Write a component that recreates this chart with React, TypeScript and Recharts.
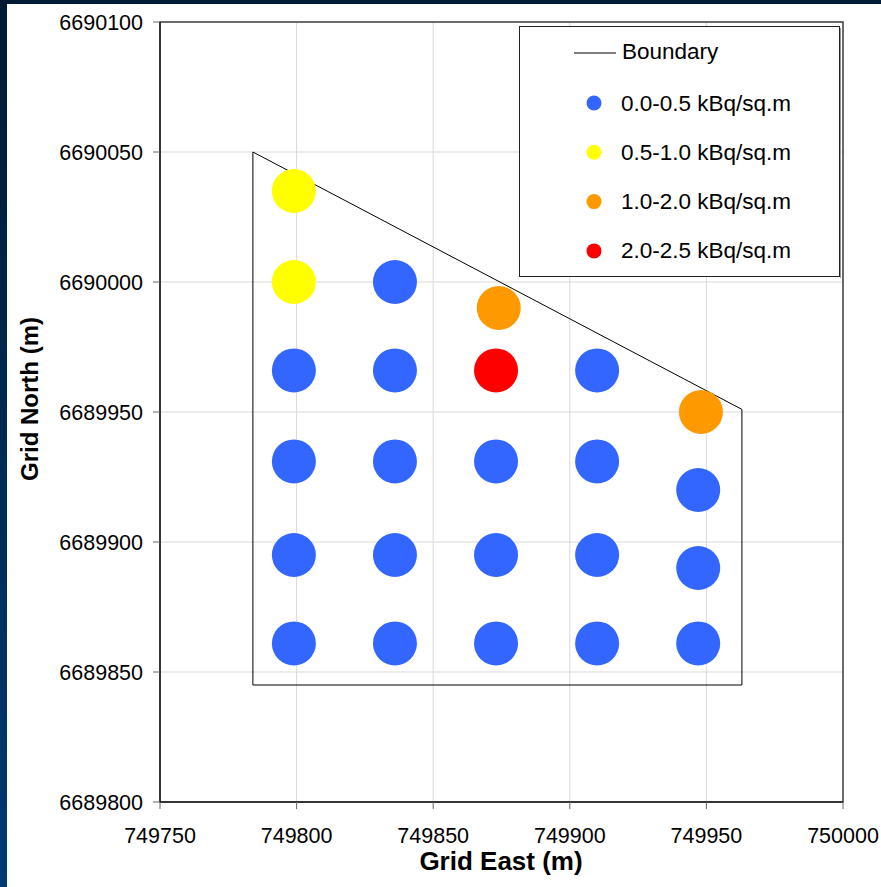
import React from 'react'
import { ScatterChart, Scatter, XAxis, YAxis, CartesianGrid, Legend, ReferenceArea, Label } from 'recharts'

const FONT = '"Liberation Sans", Arial, sans-serif'

const EAST_TICKS = [749750, 749800, 749850, 749900, 749950, 750000]
const NORTH_TICKS = [6689800, 6689850, 6689900, 6689950, 6690000, 6690050, 6690100]

// survey area outline (closed)
const boundary = [
  { x: 749784, y: 6690050 },
  { x: 749963, y: 6689951 },
  { x: 749963, y: 6689845 },
  { x: 749784, y: 6689845 },
  { x: 749784, y: 6690050 },
]

// sample points grouped by activity band
const band00to05 = [
  { x: 749836, y: 6690000 },
  { x: 749799, y: 6689966 },
  { x: 749836, y: 6689966 },
  { x: 749910, y: 6689966 },
  { x: 749799, y: 6689931 },
  { x: 749836, y: 6689931 },
  { x: 749873, y: 6689931 },
  { x: 749910, y: 6689931 },
  { x: 749947, y: 6689920 },
  { x: 749799, y: 6689895 },
  { x: 749836, y: 6689895 },
  { x: 749873, y: 6689895 },
  { x: 749910, y: 6689895 },
  { x: 749947, y: 6689890 },
  { x: 749799, y: 6689861 },
  { x: 749836, y: 6689861 },
  { x: 749873, y: 6689861 },
  { x: 749910, y: 6689861 },
  { x: 749947, y: 6689861 },
]

const band05to10 = [
  { x: 749799, y: 6690035 },
  { x: 749799, y: 6690000 },
]

const band10to20 = [
  { x: 749874, y: 6689990 },
  { x: 749948, y: 6689950 },
]

const band20to25 = [
  { x: 749873, y: 6689966 },
]

const BANDS = [
  { name: '0.0-0.5 kBq/sq.m', color: '#3366ff', data: band00to05 },
  { name: '0.5-1.0 kBq/sq.m', color: '#ffff00', data: band05to10 },
  { name: '1.0-2.0 kBq/sq.m', color: '#ff9900', data: band10to20 },
  { name: '2.0-2.5 kBq/sq.m', color: '#ff0000', data: band20to25 },
]

const makeDot = (color: string) => (props: any) => (
  <circle cx={props.cx} cy={props.cy} r={22} fill={color} />
)

const noShape = () => <g />

function LegendBox() {
  return (
    <svg width={322} height={252} style={{ display: 'block' }}>
      <rect x={0.5} y={0.5} width={320} height={250} fill="#fff" stroke="#222" />
      <line x1={321.5} y1={2} x2={321.5} y2={252} stroke="#999" />
      <line x1={55} y1={27} x2={97} y2={27} stroke="#000" strokeWidth={1} />
      <text x={103} y={25} dominantBaseline="central" fontSize={22.5} fontFamily={FONT} fill="#000">
        Boundary
      </text>
      {BANDS.map((b, i) => {
        const cy = 77 + i * 49.3
        return (
          <g key={b.name}>
            <circle cx={75} cy={cy} r={7.5} fill={b.color} />
            <text x={102} y={cy} dominantBaseline="central" fontSize={22.5} fontFamily={FONT} fill="#000">
              {b.name}
            </text>
          </g>
        )
      })}
    </svg>
  )
}

export default function App() {
  return (
    <div
      style={{
        position: 'absolute',
        left: 0,
        top: 0,
        width: 881,
        height: 887,
        background: 'linear-gradient(#001a33, #003a70)',
        overflow: 'hidden',
      }}
    >
      <div style={{ position: 'absolute', left: 7, top: 4, width: 874, height: 883, background: '#fff' }} />
      <div style={{ position: 'absolute', left: 0, top: 0 }}>
        <ScatterChart width={881} height={887} margin={{ top: 22, right: 38, bottom: 0, left: 0 }}>
          <CartesianGrid stroke="#d9d9d9" />
          <XAxis
            type="number"
            dataKey="x"
            domain={[749750, 750000]}
            ticks={EAST_TICKS}
            allowDataOverflow
            height={85}
            tickSize={7}
            tickMargin={19}
            axisLine={{ stroke: '#000' }}
            tickLine={{ stroke: '#666' }}
            tick={{ fill: '#000', fontSize: 21.5, fontFamily: FONT }}
          >
            <Label
              content={() => (
                <text x={501} y={870} textAnchor="middle" fontSize={26} fontWeight="bold" fontFamily={FONT} fill="#000">
                  Grid East (m)
                </text>
              )}
            />
          </XAxis>
          <YAxis
            type="number"
            dataKey="y"
            domain={[6689800, 6690100]}
            ticks={NORTH_TICKS}
            allowDataOverflow
            width={160}
            tickSize={7}
            tickMargin={10}
            axisLine={{ stroke: '#000' }}
            tickLine={{ stroke: '#666' }}
            tick={{ fill: '#000', fontSize: 21.5, fontFamily: FONT }}
          >
            <Label
              content={() => (
                <text
                  x={38}
                  y={399}
                  transform="rotate(-90 38 399)"
                  textAnchor="middle"
                  fontSize={24}
                  fontWeight="bold"
                  fontFamily={FONT}
                  fill="#000"
                >
                  Grid North (m)
                </text>
              )}
            />
          </YAxis>
          <ReferenceArea
            x1={749750}
            x2={750000}
            y1={6689800}
            y2={6690100}
            fill="none"
            stroke="#404040"
            strokeWidth={1.5}
          />
          <Scatter
            name="Boundary"
            data={boundary}
            line={{ stroke: '#000', strokeWidth: 1 }}
            shape={noShape}
            isAnimationActive={false}
          />
          {BANDS.map((b) => (
            <Scatter
              key={b.name}
              name={b.name}
              data={b.data}
              fill={b.color}
              shape={makeDot(b.color)}
              isAnimationActive={false}
            />
          ))}
          <Legend
            layout="horizontal"
            verticalAlign="middle"
            align="center"
            wrapperStyle={{ left: 519, top: 26, width: 322, height: 252 }}
            content={() => <LegendBox />}
          />
        </ScatterChart>
      </div>
    </div>
  )
}
